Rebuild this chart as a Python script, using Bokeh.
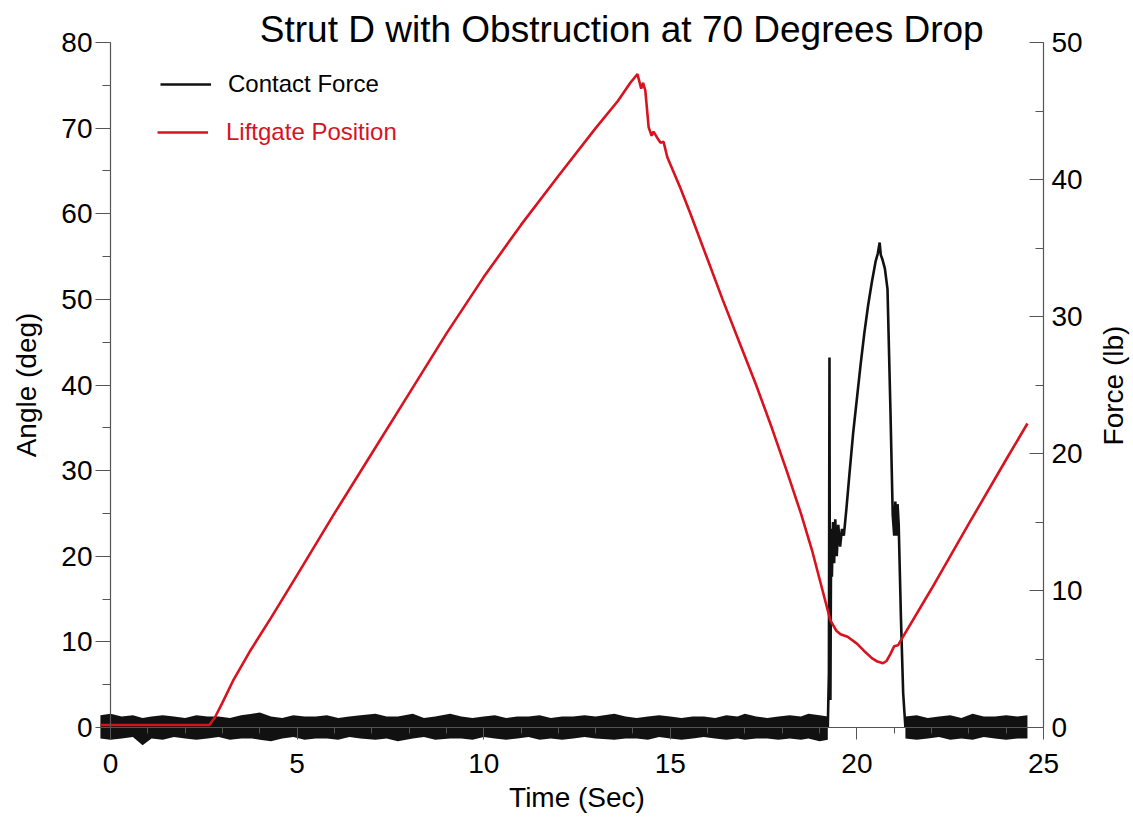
from bokeh.plotting import figure
from bokeh.models import (Range1d, LinearAxis, Legend, LegendItem, Label,
                          SingleIntervalTicker)
from bokeh.embed import file_html
from bokeh.resources import INLINE

# ---------------- data ----------------
# Liftgate position (deg) vs time (s)
angle_t = [-0.27, 2.65, 2.8, 3.0, 3.3, 3.75, 4.3, 5.0, 6.0, 7.0,
           8.0, 9.0, 10.0, 11.0, 12.0, 13.0, 13.6, 13.93, 14.12, 14.22,
           14.27, 14.33, 14.42, 14.5, 14.55, 14.66, 14.74, 14.82, 14.92, 15.27,
           15.54, 15.97, 16.4, 16.85, 17.3, 17.72, 18.14, 18.5, 18.81, 19.05,
           19.29, 19.45, 19.56, 19.75, 20.0, 20.18, 20.4, 20.55, 20.7, 20.8,
           20.9, 21.0, 21.1, 21.25, 22.0, 23.0, 24.0, 24.57]
angle_deg = [0.3, 0.3, 1.2, 2.9, 5.6, 9.0, 12.8, 17.8, 25.0, 32.0,
             39.0, 46.0, 52.6, 58.7, 64.4, 70.0, 73.2, 75.3, 76.3, 74.6,
             75.3, 74.4, 70.1, 69.1, 69.6, 68.8, 68.3, 68.4, 66.6, 63.0,
             60.0, 55.0, 50.0, 45.0, 40.0, 35.0, 29.7, 25.0, 20.5, 16.5,
             12.5, 11.3, 10.9, 10.6, 9.8, 9.0, 8.1, 7.7, 7.5, 7.8,
             8.6, 9.5, 9.6, 10.7, 16.2, 23.8, 31.3, 35.5]

# Contact force (lb) during contact
force_t = [19.22, 19.25, 19.265, 19.275, 19.29, 19.31, 19.33, 19.36, 19.39, 19.42,
           19.46, 19.5, 19.55, 19.6, 19.65, 19.72, 19.8, 19.9, 20.0, 20.1,
           20.2, 20.3, 20.4, 20.5, 20.56, 20.61, 20.64, 20.68, 20.75, 20.82,
           20.9, 20.96, 21.0, 21.03, 21.06, 21.09, 21.12, 21.18, 21.24, 21.3]
force_lb = [0.0, 4.0, 27.0, 8.0, 2.0, 14.5, 11.0, 15.0, 12.0, 15.2,
            12.5, 14.8, 13.2, 14.5, 14.0, 16.0, 18.5, 21.5, 24.0, 26.5,
            28.8, 30.8, 32.5, 34.0, 34.6, 35.4, 34.5, 34.2, 33.5, 32.0,
            23.0, 15.5, 14.0, 16.5, 14.0, 16.3, 14.8, 8.0, 2.5, 0.0]

# Contact force noise envelope (lb) before contact
noise1_t = [-0.27, 0.0, 0.3, 0.6, 0.86, 1.1, 1.4, 1.7, 2.0, 2.3,
            2.6, 2.9, 3.2, 3.5, 3.8, 4.0, 4.3, 4.6, 4.9, 5.2,
            5.5, 5.8, 6.1, 6.4, 6.7, 7.1, 7.4, 7.7, 8.1, 8.4,
            8.7, 9.1, 9.4, 9.7, 10.0, 10.3, 10.6, 10.9, 11.2, 11.5,
            11.8, 12.1, 12.4, 12.7, 13.0, 13.5, 13.8, 14.1, 14.4, 14.7,
            15.0, 15.3, 15.6, 15.9, 16.2, 16.5, 16.8, 17.0, 17.3, 17.6,
            17.9, 18.2, 18.5, 18.7, 19.0, 19.22]
noise1_hi = [0.9, 1.0, 0.8, 0.9, 0.7, 0.8, 0.9, 0.8, 0.7, 0.9,
             0.8, 0.8, 0.7, 0.9, 1.0, 1.1, 0.8, 0.7, 0.9, 0.8,
             0.8, 0.9, 0.7, 0.8, 0.9, 1.0, 0.8, 0.8, 1.0, 0.7,
             0.8, 1.0, 0.8, 0.7, 0.8, 0.9, 0.7, 0.8, 0.8, 0.9,
             0.7, 0.8, 0.8, 0.9, 0.8, 1.0, 0.8, 0.7, 0.8, 0.9,
             0.8, 0.7, 0.8, 0.8, 0.7, 0.9, 0.8, 1.0, 0.8, 0.7,
             0.8, 0.9, 0.8, 1.0, 0.9, 0.8]
noise1_lo = [-0.8, -0.9, -0.8, -0.7, -1.3, -0.8, -0.9, -0.7, -0.8, -0.9,
             -0.8, -0.7, -0.9, -0.8, -0.8, -0.9, -1.0, -0.8, -0.7, -0.9,
             -0.8, -0.8, -0.9, -0.7, -0.8, -0.9, -0.8, -1.0, -0.8, -0.7,
             -0.9, -0.8, -0.8, -0.9, -0.7, -0.8, -0.9, -0.8, -0.7, -0.9,
             -0.8, -0.9, -0.8, -0.7, -0.8, -0.9, -0.8, -0.8, -0.9, -0.7,
             -0.8, -0.9, -0.8, -0.7, -0.8, -0.9, -0.8, -0.9, -0.8, -0.8,
             -0.9, -0.8, -0.9, -0.8, -1.0, -0.9]

# Contact force noise envelope (lb) after contact
noise2_t = [21.3, 21.6, 21.9, 22.2, 22.5, 22.8, 23.1, 23.4, 23.7, 24.0, 24.3, 24.57]
noise2_hi = [0.8, 0.9, 0.7, 0.8, 0.9, 0.7, 1.0, 0.8, 0.8, 0.9, 0.8, 0.9]
noise2_lo = [-0.8, -0.9, -0.8, -0.7, -0.9, -0.8, -0.9, -0.7, -0.8, -0.9, -0.8, -0.8]

title_text = "Strut D with Obstruction at 70 Degrees Drop"
x_label = "Time (Sec)"
y_label = "Angle (deg)"
y2_label = "Force (lb)"
legend_labels = ["Contact Force", "Liftgate Position"]

# ---------------- styling / layout ----------------
RED = "#d8131f"
BLACK = "#111111"
AXC = "#555555"
FONT = "Liberation Sans"

W, H = 1133, 817
X0PX, PXS = 110.0, 37.32      # pixel of t=0, pixels per second
Y0PX, PYS = 727.0, 8.5625     # pixel of angle=0, pixels per degree
x0, x1 = -X0PX / PXS, (W - X0PX) / PXS
y0, y1 = (Y0PX - H) / PYS, Y0PX / PYS

p = figure(width=W, height=H, output_backend="svg", toolbar_location=None,
           x_range=Range1d(x0, x1), y_range=Range1d(y0, y1),
           x_axis_location=None, y_axis_location=None, min_border=0)
p.extra_y_ranges = {"force": Range1d(y0 * 50 / 80, y1 * 50 / 80)}
p.outline_line_color = None
p.background_fill_color = "white"
p.border_fill_color = "white"
p.grid.visible = False


def style_axis(ax):
    ax.axis_line_color = AXC
    ax.axis_line_width = 1.2
    ax.major_tick_line_color = AXC
    ax.minor_tick_line_color = AXC
    ax.major_label_text_font = FONT
    ax.major_label_text_font_size = "28px"
    ax.major_label_text_color = "black"
    ax.axis_label_text_font = FONT
    ax.axis_label_text_font_size = "28px"
    ax.axis_label_text_font_style = "normal"
    ax.axis_label_text_color = "black"


xaxis = LinearAxis(fixed_location=0, bounds=(0, 25), axis_label=x_label,
                   ticker=SingleIntervalTicker(interval=5, num_minor_ticks=5))
style_axis(xaxis)
xaxis.major_tick_out = 12
xaxis.major_tick_in = 0
xaxis.minor_tick_out = 6
xaxis.minor_tick_in = 0
xaxis.major_label_standoff = 14
xaxis.axis_label_standoff = 6
p.add_layout(xaxis, "below")

yaxis = LinearAxis(fixed_location=0, bounds=(0, 80), axis_label=y_label,
                   ticker=SingleIntervalTicker(interval=10, num_minor_ticks=2))
style_axis(yaxis)
yaxis.major_tick_out = 15
yaxis.major_tick_in = 0
yaxis.minor_tick_out = 8
yaxis.minor_tick_in = 0
yaxis.major_label_standoff = 3
yaxis.axis_label_standoff = 16
p.add_layout(yaxis, "left")

y2axis = LinearAxis(fixed_location=25, y_range_name="force", bounds=(0, 50),
                    ticker=SingleIntervalTicker(interval=10, num_minor_ticks=2))
style_axis(y2axis)
y2axis.major_tick_out = 0
y2axis.major_tick_in = 14
y2axis.minor_tick_out = 0
y2axis.minor_tick_in = 8
y2axis.major_label_standoff = 8
p.add_layout(y2axis, "right")

# right axis title, reading bottom-to-top as in the reference
p.add_layout(Label(x=1113, y=H - 385, x_units="screen", y_units="screen",
                   text=y2_label, angle=90, angle_units="deg",
                   text_font=FONT, text_font_size="28px", text_color="black",
                   text_align="center", text_baseline="middle"))

# ---------------- data renderers ----------------
p.varea(x=noise1_t, y1=noise1_lo, y2=noise1_hi, y_range_name="force",
        fill_color=BLACK)
p.varea(x=noise2_t, y1=noise2_lo, y2=noise2_hi, y_range_name="force",
        fill_color=BLACK)
r_force = p.line(force_t, force_lb, y_range_name="force", line_color=BLACK,
                 line_width=2.6)
r_angle = p.line(angle_t, angle_deg, line_color=RED, line_width=2.6)

# ---------------- title ----------------
p.add_layout(Label(x=4.0, y=81.5, text=title_text, text_font=FONT,
                   text_font_size="37px", text_color="black",
                   text_baseline="middle", text_align="left"))

# ---------------- legends ----------------
def make_legend(label, rend, loc, color, standoff):
    return Legend(items=[LegendItem(label=label, renderers=[rend])],
                  location=loc, padding=0, margin=0, spacing=0,
                  border_line_color=None, background_fill_alpha=0,
                  glyph_width=51, glyph_height=26, label_height=26,
                  label_standoff=standoff, label_text_font=FONT,
                  label_text_font_size="24px", label_text_color=color)

p.add_layout(make_legend(legend_labels[0], r_force, (160, H - 98), "black", 17))
p.add_layout(make_legend(legend_labels[1], r_angle, (157, H - 146), RED, 18))

open("out.html", "w").write(file_html(p, INLINE))
